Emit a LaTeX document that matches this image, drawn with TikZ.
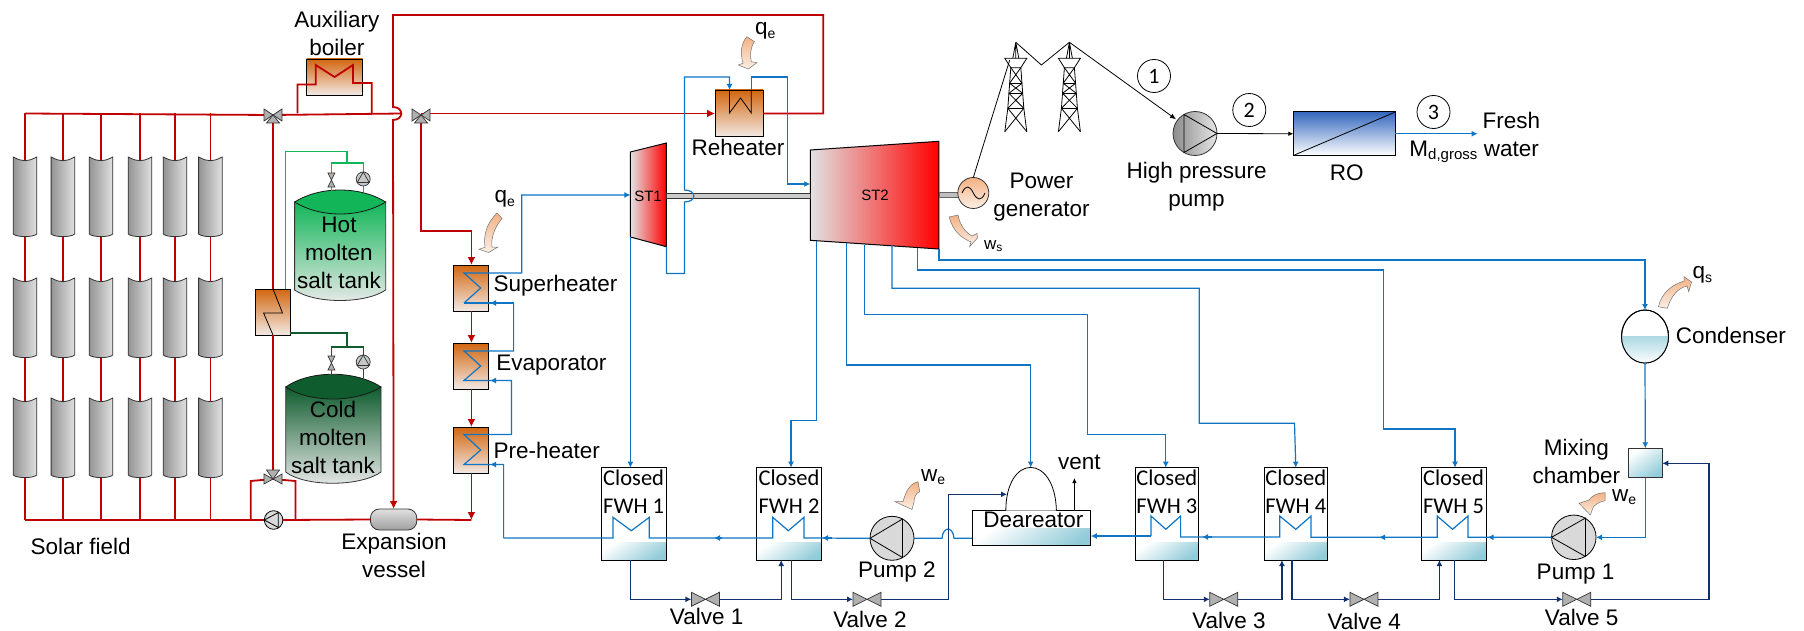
\documentclass[tikz,border=0pt]{standalone}
\usepackage{fontspec}
\setmainfont{Liberation Sans}
\newfontfamily\calfont{Carlito}
\usetikzlibrary{arrows.meta,shapes.geometric}
\definecolor{redp}{HTML}{C00000}
\definecolor{bluep}{HTML}{0F75C4}
\definecolor{navyp}{HTML}{10306F}
\definecolor{greenp}{HTML}{12B558}
\definecolor{dgreenp}{HTML}{0F5C2E}
\definecolor{hxtop}{HTML}{D2660F}
\definecolor{hxbot}{HTML}{F2E9E4}
\definecolor{waterc}{HTML}{93CCD9}
\definecolor{heatA}{HTML}{F4B183}
\definecolor{heatB}{HTML}{FBEFE6}
\definecolor{turbA}{HTML}{E2E2E2}
\definecolor{valveg}{HTML}{B0B0B0}
\definecolor{roblue}{HTML}{3568BE}
\newcommand\subt[2]{#1\raisebox{-3.5pt}{\fontsize{14}{14}\selectfont #2}}
\tikzset{
  x=1pt,y=-1pt,
  lab/.style={inner sep=0pt,outer sep=0pt,align=center,font=\fontsize{22.5}{28}\selectfont},
  cal/.style={inner sep=0pt,outer sep=0pt,align=center,font=\calfont\fontsize{22.5}{28}\selectfont},
  smalllab/.style={inner sep=0pt,outer sep=0pt,font=\fontsize{15}{15}\selectfont},
  pipeR/.style={draw=redp,line width=1.8pt},
  pipeB/.style={draw=bluep,line width=1.2pt},
  pipeN/.style={draw=navyp,line width=1.3pt},
  pipeG/.style={draw=greenp,line width=1.4pt},
  pipeD/.style={draw=dgreenp,line width=1.4pt},
  wire/.style={draw=black,line width=.8pt},
  tipB/.style={-{Latex[length=6pt,width=6pt]}},
  tipR/.style={-{Latex[length=8pt,width=8pt]}},
  hxbox/.style={draw=black,line width=.9pt,top color=hxtop,bottom color=hxbot,inner sep=0pt,outer sep=0pt},
  plainbox/.style={draw=black,line width=1pt,fill=white,inner sep=0pt,outer sep=0pt},
  water/.style={left color=white,right color=waterc,shading angle=35},
  heat/.style={draw=black!55,line width=.5pt,top color=heatA,bottom color=heatB},
  greyv/.style={draw=black!80,line width=.7pt,fill=valveg},
  pumpc/.style={circle,draw=black,line width=.8pt,fill=black!15,inner sep=0pt,outer sep=0pt},
  valvebox/.style={inner sep=0pt,outer sep=0pt,minimum width=28pt,minimum height=14pt},
  collector/.pic={
    \draw[draw=black!80,line width=.8pt,left color=black!42,right color=black!12]
      (-11.8,0) .. controls (-6,3) and (-3,3.7) .. (0,3.7) .. controls (3,3.7) and (6,3) .. (11.8,0)
      -- (11.8,77) .. controls (8,80.5) and (-8,80.5) .. (-11.8,77) -- cycle;},
  valvehpic/.pic={\draw[greyv] (-14,-7) -- (14,7) -- (14,-7) -- (-14,7) -- cycle;},
  valvevpic/.pic={\draw[greyv] (-3.5,-7) -- (3.5,-7) -- (-3.5,7) -- (3.5,7) -- cycle;},
  threewaydn/.pic={\draw[greyv] (-9,-6) -- (9,6) -- (9,-6) -- (-9,6) -- cycle;
    \draw[greyv] (0,0) -- (6.5,8) -- (-6.5,8) -- cycle;},
  threewayup/.pic={\draw[greyv] (-9,-5) -- (9,5) -- (9,-5) -- (-9,5) -- cycle;
    \draw[greyv] (0,0) -- (6.5,-9) -- (-6.5,-9) -- cycle;},
  smallpump/.pic={\draw[draw=black!80,line width=.7pt,fill=black!22] (0,0) circle[radius=7];
    \draw[draw=black!80,line width=.7pt] (0,-7) -- (6,3.5) -- (-6,3.5) -- cycle;},
  tower/.pic={
    \draw[wire] (0,42.3) -- (-3,58.3) (0,42.3) -- (3,58.3) (0,42.3) -- (0,58.3);
    \draw[wire] (-11,58.3) -- (11,58.3) -- (5,67.7) -- (-5,67.7) -- cycle;
    \draw[wire] (-5,67.7) -- (-8,108.3) -- (-11,131.7) (5,67.7) -- (8,108.3) -- (11,131.7);
    \draw[wire] (-6.2,83.3) -- (6.2,83.3) (-6.9,93.3) -- (6.9,93.3) (-8,108.3) -- (8,108.3);
    \draw[wire] (-5,67.7) -- (6.2,83.3) (5,67.7) -- (-6.2,83.3)
      (-6.2,83.3) -- (6.9,93.3) (6.2,83.3) -- (-6.9,93.3)
      (-6.9,93.3) -- (8,108.3) (6.9,93.3) -- (-8,108.3)
      (-8,108.3) -- (11,131.7) (8,108.3) -- (-11,131.7);}
}
\newcommand\fwhunit[4]{%
  \node[plainbox,minimum width={(#3-#2)*1pt},minimum height=92.3pt] (#1) at ({(#2+#3)/2},513.85) {};
  \shade[water] (#2,542.7) rectangle (#3,560);
  \draw[draw=black,line width=1pt] (#2,467.7) rectangle (#3,560);
  \node[cal] (#1lab) at ({(#2+#3)/2},492) {Closed\\FWH #4};
}
\begin{document}
\begin{tikzpicture}[line join=miter]
\useasboundingbox (0,0) rectangle (1804,631);

%%% solar field
\coordinate (hdrA) at (25,113.5);
\coordinate (hdrB) at (25,520);
\coordinate (valveA) at (273,115);
\coordinate (valveB) at (421,115);
\coordinate (valveC) at (273,479);
\coordinate (jumpE) at (402,113.5);
\foreach \i/\x in {1/25,2/62.9,3/101,4/140,5/175,6/210.4}{
  \coordinate (top\i) at (\x,113.5);
  \coordinate (bot\i) at (\x,520);
  \draw[pipeR] (top\i) -- (bot\i);
  \pic at (\x,157) {collector};
  \pic at (\x,278) {collector};
  \pic at (\x,398) {collector};
}
\node[lab] (solarlab) at (80.6,546) {Solar field};

%%% boxes of the salt loop
\node[hxbox,minimum width=56pt,minimum height=36pt] (aux) at (334.5,77) {};
\node[lab] (auxlab) at (336.8,33) {Auxiliary\\boiler};
\node[hxbox,minimum width=34.7pt,minimum height=46pt] (hxs) at (273,312) {};
\node[hxbox,minimum width=35pt,minimum height=46pt] (sup) at (471.4,288) {};
\node[hxbox,minimum width=35pt,minimum height=46pt] (eva) at (471.4,366) {};
\node[hxbox,minimum width=35pt,minimum height=46pt] (pre) at (471.4,450) {};
\node[hxbox,minimum width=48pt,minimum height=46.7pt] (reh) at (739,113.35) {};
\node[lab,anchor=west] (suplab) at (493.6,286) {Superheater};
\node[lab,anchor=west] (evalab) at (496.4,365) {Evaporator};
\node[lab,anchor=west] (prelab) at (493.6,450) {Pre-heater};
\node[lab] (rehlab) at (738,147) {Reheater};
\node[draw=black!80,line width=.8pt,rounded corners=9pt,top color=black!12,bottom color=black!38,minimum width=46.4pt,minimum height=21pt,inner sep=0pt,outer sep=0pt] (vessel) at (393.6,519.5) {};
\node[lab] (vessellab) at (394,555) {Expansion\\vessel};
\node[pumpc,minimum size=18.6pt] (pumpS) at (273.6,520) {};
\draw[wire] (pumpS.west) -- ++(14,-7.5) -- ++(0,15) -- cycle;

%%% red pipes
\draw[pipeR] (hdrA) -- (valveA) -- (jumpE);
\draw[pipeR] (hdrB) -- (pumpS.west);
\draw[pipeR] (pumpS.east) -- (vessel.west);
\draw[pipeR] (valveA) -- (hxs.north);
\draw[pipeR] (hxs.south) -- (valveC);
\draw[pipeR] (250.7,520) -- (250.7,481) -- (valveC);
\draw[pipeR] (295.4,520) -- (295.4,481) -- (valveC);
\coordinate (auxL) at (297.5,113.5);
\coordinate (auxR) at (371.8,113.5);
\draw[pipeR] (auxL) -- (297.5,84.5) -- (315.7,84.5) -- (315.7,65) -- (334.6,77) -- (353,65) -- (353,83) -- (371.8,83) -- (auxR);
\coordinate (loopT) at (393,15);
\coordinate (rehRout) at (763,113.5);
\coordinate (rehRin) at (715,113.5);
\draw[pipeR,tipR] (rehRout) -- (823.3,113.5) -- (823.3,15) -- (loopT) -- (393,107) .. controls (404,107) and (404,120) .. (393,120) -- (vessel.north);
\draw[pipeR,tipR] (valveB |- rehRin) -- (rehRin);
\draw[pipeR,tipR] (valveB) -- (421,231) -- (471.4,231) -- (sup.north);
\draw[pipeR,tipR] (sup.south) -- (eva.north);
\draw[pipeR,tipR] (eva.south) -- (pre.north);
\coordinate (dropE) at (471.4,520);
\draw[pipeR,tipR] (pre.south) -- (dropE);
\draw[pipeR] (vessel.east) -- (dropE);
\pic at (valveA) {threewaydn};
\pic at (valveB) {threewaydn};
\pic at (valveC) {threewayup};
\draw[wire] (hxs.north) -- (282.5,313) -- (263.6,313) -- (hxs.south);

%%% hot tank
\draw[draw=black!80,line width=.8pt,top color=greenp,bottom color=black!8]
  (294.6,202) -- (294.6,290) .. controls (315,304) and (365,304) .. (385.7,290) -- (385.7,202) -- cycle;
\draw[draw=black!90,line width=.8pt,fill=greenp]
  (294.6,202) .. controls (320,186) and (360,186) .. (385.7,202) .. controls (360,218) and (320,218) .. (294.6,202) -- cycle;
\node[lab] (hotlab) at (339,253) {Hot\\molten\\salt tank};
\draw[pipeG] (hxs.north -| 285.7,0) -- (285.7,151.5) -- (347,151.5) -- (347,163);
\draw[pipeG] (331.4,192) -- (331.4,163) -- (363.2,163) -- (363.2,192);
\pic at (331.4,180) {valvevpic};
\pic at (363.2,179) {smallpump};

%%% cold tank
\draw[draw=black!80,line width=.8pt,top color=dgreenp,bottom color=black!8]
  (285.7,387) -- (285.7,472) .. controls (305,487) and (360,487) .. (381,472) -- (381,387) -- cycle;
\draw[draw=black!90,line width=.8pt,fill=dgreenp]
  (285.7,387) .. controls (310,370) and (355,370) .. (381,387) .. controls (355,403) and (310,403) .. (285.7,387) -- cycle;
\node[lab] (coldlab) at (333,437) {Cold\\molten\\salt tank};
\draw[pipeD] (hxs.east |- 0,333) -- (347,333) -- (347,347);
\draw[pipeD] (331.4,378) -- (331.4,347) -- (363.2,347) -- (363.2,378);
\pic at (331.4,363) {valvevpic};
\pic at (363.2,362) {smallpump};

%%% turbines
\draw[draw=black,line width=1pt,left color=turbA,right color=red]
  (630.4,152) -- (666.4,143) -- (666.4,246.7) -- (630.4,237) -- cycle;
\draw[draw=black,line width=1pt,left color=turbA,right color=red]
  (810.3,150) -- (938.9,141.3) -- (938.9,249) -- (810.3,240.3) -- cycle;
\node[smalllab] (stA) at (648,196) {ST1};
\node[smalllab] (stB) at (875,195) {ST2};
\node[draw=black!80,line width=.8pt,fill=black!20,minimum width=143.9pt,minimum height=5.2pt,inner sep=0pt,outer sep=0pt] (shaftA) at (738.35,196) {};
\node[draw=black!60,line width=.6pt,fill=black!25,minimum width=20pt,minimum height=5.2pt,inner sep=0pt,outer sep=0pt] (shaftB) at (949,194.5) {};
\node[circle,draw=black!80,line width=.8pt,top color=heatA,bottom color=heatB,minimum size=31pt,inner sep=0pt,outer sep=0pt] (gen) at (973.3,193) {};
\draw[wire] (962,193) .. controls (966,184) and (970,186) .. (973.3,193) .. controls (977,200) and (981,202) .. (985,193);
\node[lab] (genlab) at (1041.4,197) {Power\\generator};

%%% steam coils
\coordinate (stAin) at (630.4,195);
\draw[pipeB,tipB] (464,303) -- (480.7,288) -- (464,273) -- (521.8,273) -- (521.8,195) -- (stAin);
\draw[pipeB] (513.6,303) -- (464,303);
\draw[pipeB] (513.6,303) -- (513.6,351) -- (464,351) -- (480.7,366) -- (464,380.5) -- (511.4,380.5) -- (511.4,434.5) -- (464,434.5) -- (480.7,450) -- (464,464.5) -- (503.6,464.5) -- (503.6,538);
\coordinate (tipS) at (490,303);
\coordinate (tipE) at (490,380.5);
\coordinate (tipP) at (490,464.5);
\draw[pipeB,tipB] (496,303) -- (tipS);
\draw[pipeB,tipB] (496,380.5) -- (tipE);
\draw[pipeB,tipB] (496,464.5) -- (tipP);

%%% reheater piping
\coordinate (rehIn) at (729.5,90);
\coordinate (rehOut) at (751.3,90);
\coordinate (stBin) at (810.3,184);
\coordinate (stAout) at (666.4,246.7);
\draw[pipeB,tipB] (stAout) -- (666.4,273.5) -- (684.4,273.5) -- (684.4,202) .. controls (697,202) and (697,190) .. (684.4,190) -- (684.4,77) -- (729.5,77) -- (rehIn);
\draw[pipeB,tipB] (rehOut) -- (751.3,77) -- (787.7,77) -- (787.7,184) -- (stBin);
\draw[wire] (rehIn) -- (729.5,113) -- (740.6,98) -- (751.3,113) -- (rehOut);

%%% power line
\pic at (1015.8,0) {tower};
\pic at (1069.4,0) {tower};
\node[circle,draw=black!80,line width=.8pt,left color=black!45,right color=black!10,minimum size=44pt,inner sep=0pt,outer sep=0pt] (hpp) at (1195,133.5) {};
\draw[wire] (1184,114.5) -- (hpp.east) -- (1184,152.5) -- cycle;
\coordinate (armL) at (1009.7,60);
\coordinate (towA) at (1015.8,42.3);
\coordinate (hppIn) at (1176,119.3);
\draw[wire] (gen.north) -- (armL);
\draw[wire,-{Latex[length=6pt,width=5pt]}] (towA) -- (1041.4,65) -- (1069.4,42.3) -- (hppIn);
\node[draw=black,line width=1pt,top color=roblue,bottom color=white,minimum width=102pt,minimum height=43.5pt,inner sep=0pt,outer sep=0pt] (ro) at (1344.3,133.75) {};
\draw[wire] (ro.south west) -- (ro.north east);
\draw[wire,-{Latex[length=5pt,width=4.5pt]}] (hpp.east) -- (ro.west);
\coordinate (freshE) at (1477.6,133.75);
\draw[pipeB,tipB] (ro.east) -- (freshE);
\foreach \n/\x/\y/\t in {cA/1154/76/1,cB/1249.3/110/2,cC/1433.5/112/3}{
  \node[circle,draw=black,line width=.8pt,fill=white,minimum size=33pt,inner sep=0pt,font=\calfont\fontsize{22}{22}\selectfont] (\n) at (\x,\y) {\t};
}
\node[lab] (hpplab) at (1196.6,187) {High pressure\\pump};
\node[lab] (rolab) at (1346.7,173) {RO};
\node[lab,anchor=west] (mdlab) at (1409.4,152) {M\raisebox{-3.5pt}{\fontsize{15}{15}\selectfont d,gross}};
\node[lab] (freshlab) at (1511.4,134) {Fresh\\water};

%%% feedwater heaters
\fwhunit{fwA}{601.3}{666}{1}
\fwhunit{fwB}{756.7}{821.3}{2}
\fwhunit{fwC}{1135.3}{1198.5}{3}
\fwhunit{fwD}{1264.4}{1327.2}{4}
\fwhunit{fwE}{1421}{1486}{5}

%%% deaerator
\node[plainbox,minimum width=118.8pt,minimum height=35pt] (dea) at (1031.4,528.2) {};
\shade[water] (972,528.3) rectangle (1090.8,545.7);
\draw[draw=black,line width=1pt] (972,510.7) rectangle (1090.8,545.7);
\draw[wire,fill=white] (1005.8,510.7) .. controls (1006,453) and (1055,453) .. (1056.4,510.7);
\node[lab] (dealab) at (1033.4,520) {Deareator};
\node[lab] (ventlab) at (1079.3,462) {vent};
\coordinate (ventE) at (1074.4,478);
\draw[wire,-{Latex[length=5pt,width=4.5pt]}] (1074.4,510.7) -- (ventE);

%%% pumps
\node[pumpc,minimum size=44pt] (pumpB) at (892,538.3) {};
\draw[wire] (pumpB.west) -- (902.5,519) -- (902.5,557.5) -- cycle;
\node[pumpc,minimum size=44.5pt] (pumpA) at (1573.8,537.3) {};
\draw[wire] (pumpA.west) -- (1585.5,518) -- (1585.5,556.5) -- cycle;
\node[lab] (pumpBlab) at (896.8,572) {Pump 2};
\node[lab] (pumpAlab) at (1575.5,574.5) {Pump 1};

%%% extraction lines
\coordinate (condT) at (1645,310);
\coordinate (domeT) at (1030.7,467.5);
\draw[pipeB,tipB] (938.9,249) -- (938.9,260) -- (1645,260) -- (condT);
\draw[pipeB,tipB] (917.8,248) -- (917.8,270) -- (1383.5,270) -- (1383.5,429) -- (1455,429) -- (fwE.north -| 1455,0);
\draw[pipeB,tipB] (892,245) -- (892,288.3) -- (1199.2,288.3) -- (1199.2,423.3) -- (1294.5,423.3) -- (fwD.north);
\draw[pipeB,tipB] (864.6,245) -- (864.6,314.3) -- (1087.4,314.3) -- (1087.4,434.7) -- (1165.8,434.7) -- (fwC.north -| 1165.8,0);
\draw[pipeB,tipB] (846.3,243) -- (846.3,365) -- (1030.7,365) -- (domeT);
\draw[pipeB,tipB] (816.8,241) -- (816.8,420.3) -- (791,420.3) -- (fwB.north -| 791,0);
\draw[pipeB,tipB] (630.4,237) -- (fwA.north -| 630.4,0);

%%% feedwater line through the heaters
\draw[pipeB] (503.6,538) -- (613,538) -- (613,517.3) -- (631.3,530.7) -- (649.3,517.3) -- (649.3,538) -- (772.7,538) -- (772.7,517.3) -- (788.3,530.7) -- (804,517.3) -- (804,538) -- (pumpB.west);
\draw[pipeB] (pumpB.east) -- (942,538.3) .. controls (943,526) and (953,526) .. (954,538.3) -- (dea.west |- 0,538.3);
\draw[pipeB,tipB] (722,538) -- (714,538);
\draw[pipeB,tipB] (832,538) -- (822,538);
\draw[pipeB] (1151,536) -- (1151,516) -- (1165.8,529.3) -- (1180.6,516) -- (1180.6,537) -- (1279.7,537) -- (1279.7,516) -- (1295.8,529.3) -- (1311,516) -- (1311,537.3) -- (1437.2,537.3) -- (1437.2,516) -- (1452.5,529.3) -- (1468,516) -- (1468,537.3) -- (pumpA.west);
\draw[pipeB,tipB] (1151,536) -- (dea.east |- 0,536);
\draw[pipeB,tipB] (1212,537) -- (1202,537);
\draw[pipeB,tipB] (1390,537.3) -- (1379,537.3);
\draw[pipeB,tipB] (1498,537.3) -- (1487.5,537.3);

%%% condenser and mixing chamber
\node[ellipse,draw=black,line width=.9pt,fill=white,minimum width=47pt,minimum height=53pt,inner sep=0pt,outer sep=0pt] (cond) at (1645,336.5) {};
\begin{scope}
  \clip (1645,336.5) circle[x radius=23.5,y radius=26.5];
  \shade[top color=waterc!75,bottom color=white] (1620,336.7) rectangle (1670,364);
\end{scope}
\draw[draw=black,line width=.9pt] (1645,336.5) circle[x radius=23.5,y radius=26.5];
\node[lab,anchor=west] (condlab) at (1675.8,335) {Condenser};
\node[draw=black!80,line width=1pt,water,minimum width=34pt,minimum height=29.4pt,inner sep=0pt,outer sep=0pt] (mix) at (1645.3,463) {};
\node[lab] (mixlab) at (1576.4,461.7) {Mixing\\chamber};
\draw[pipeB,tipB] (cond.south) -- (mix.north);
\coordinate (pumpAin) at (1596,537.3);
\draw[pipeB,tipB] (mix.south) -- (1645.3,537.3) -- (pumpAin);

%%% valves and drains
\foreach \n/\x in {vlA/705.4,vlB/867,vlC/1223.8,vlD/1363.9,vlE/1576.8}{
  \node[valvebox] (\n) at (\x,599.3) {};
}
\coordinate (deaIn) at (1007,494.3);
\draw[pipeN,tipB] (fwA.south -| 630.7,0) -- (630.7,599.3) -- (vlA.west);
\draw[pipeN,tipB] (vlA.east) -- (781.2,599.3) -- (fwB.south -| 781.2,0);
\draw[pipeN,tipB] (fwB.south -| 791.5,0) -- (791.5,599.3) -- (vlB.west);
\draw[pipeN,tipB] (vlB.east) -- (948.4,599.3) -- (948.4,494.3) -- (deaIn);
\draw[pipeN,tipB] (fwC.south -| 1163.2,0) -- (1163.2,599.3) -- (vlC.west);
\draw[pipeN,tipB] (vlC.east) -- (1281.9,599.3) -- (fwD.south -| 1281.9,0);
\draw[pipeN,tipB] (fwD.south -| 1292,0) -- (1292,599.3) -- (vlD.west);
\draw[pipeN,tipB] (vlD.east) -- (1439.4,599.3) -- (fwE.south -| 1439.4,0);
\draw[pipeN,tipB] (fwE.south -| 1454.2,0) -- (1454.2,599.3) -- (vlE.west);
\draw[pipeN,tipB] (vlE.east) -- (1709,599.3) -- (1709,463.3) -- (mix.east |- 0,463.3);
\pic at (vlA) {valvehpic};
\pic at (vlB) {valvehpic};
\pic at (vlC) {valvehpic};
\pic at (vlD) {valvehpic};
\pic at (vlE) {valvehpic};
\node[lab] (vlAlab) at (706.6,616) {Valve 1};
\node[lab] (vlBlab) at (870,619) {Valve 2};
\node[lab] (vlClab) at (1229,620) {Valve 3};
\node[lab] (vlDlab) at (1364.3,621) {Valve 4};
\node[lab] (vlElab) at (1581.6,617) {Valve 5};

%%% heat and work arrows
\draw[heat] (497,213) -- (502,218.5) .. controls (494,228) and (491,238) .. (492,247) -- (498,247) -- (488.6,252.5) -- (479,249.3) -- (485,247.3) .. controls (483,233) and (488,222) .. (497,213) -- cycle;
\draw[heat] (746.8,36.7) -- (754.4,41.7) .. controls (750,48) and (750,56) .. (751.3,61.7) -- (757,62.7) -- (748.3,69) -- (738.3,65) -- (743,63.3) .. controls (740,52) and (741,44) .. (746.8,36.7) -- cycle;
\draw[heat] (949.2,217) .. controls (953,232) and (962,238) .. (971,242) -- (969.6,246.7) -- (977.5,238) -- (977,233.5) -- (972,236) .. controls (965,232) and (960,225) .. (958,215) -- cycle;
\draw[heat] (918,481.7) .. controls (908,484) and (905,495) .. (903,501.7) -- (895,501.7) -- (912,509.5) -- (914,502) .. controls (914,497) and (916,493) .. (919.7,491.7) -- cycle;
\draw[heat] (1605,492.7) .. controls (1596,493) and (1592,496) .. (1589,500) -- (1579,503.3) -- (1590.3,515) -- (1593.4,506.7) .. controls (1597,503) and (1601,501.5) .. (1605,500.7) -- cycle;
\draw[heat] (1658.4,306.7) .. controls (1662,292) and (1672,285) .. (1684,281) -- (1684,276.7) -- (1691.5,282) -- (1688.7,291.7) -- (1687,286) .. controls (1678,288) and (1671,296) .. (1667.3,308.3) -- cycle;
\node[lab,anchor=west] (qeA) at (494.6,199) {\subt{q}{e}};
\node[lab,anchor=west] (qeB) at (755,31) {\subt{q}{e}};
\node[inner sep=0pt,outer sep=0pt,anchor=west,font=\fontsize{17}{17}\selectfont] (wsl) at (984,246) {w\raisebox{-2.5pt}{\fontsize{12}{12}\selectfont s}};
\node[lab,anchor=west] (weB) at (921,477) {\subt{w}{e}};
\node[lab,anchor=west] (weA) at (1612,497) {\subt{w}{e}};
\node[lab,anchor=west] (qsl) at (1692.7,275) {\subt{q}{s}};
\end{tikzpicture}
\end{document}
